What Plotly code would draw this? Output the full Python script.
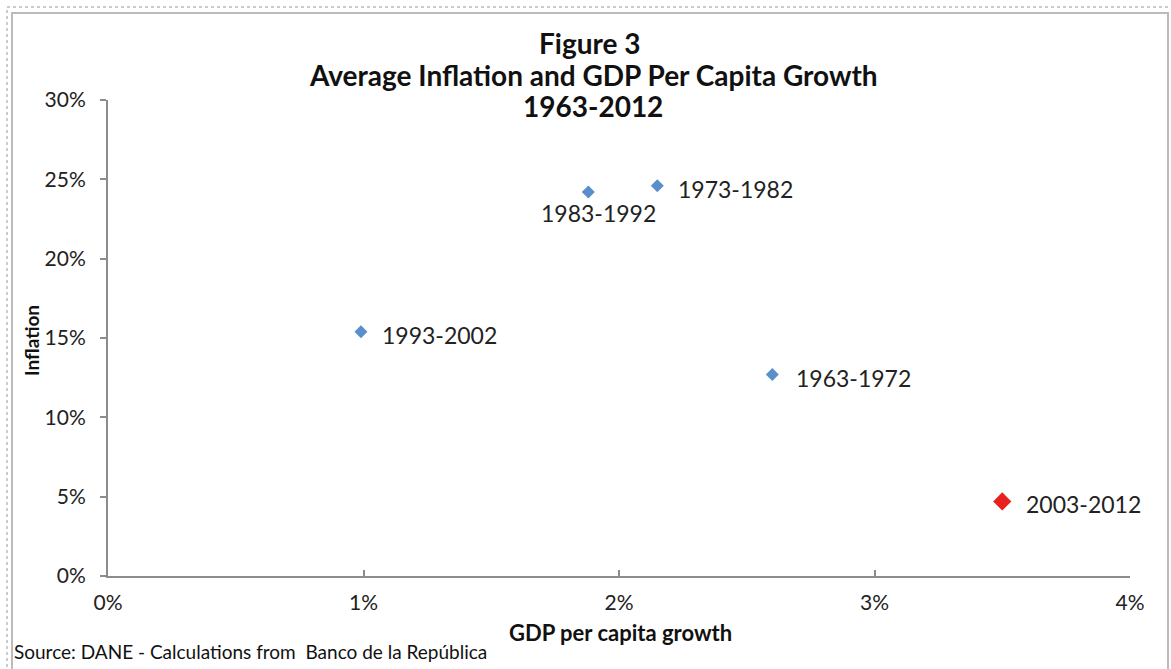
import plotly.graph_objects as go

periods = ["1963-1972", "1973-1982", "1983-1992", "1993-2002", "2003-2012"]
gdp_growth = [0.0260, 0.0215, 0.0188, 0.0099, 0.0350]
inflation = [0.127, 0.246, 0.242, 0.154, 0.047]
highlight = [False, False, False, False, True]

x_ticks = [0, 0.01, 0.02, 0.03, 0.04]
x_tick_labels = ["0%", "1%", "2%", "3%", "4%"]
y_ticks = [0, 0.05, 0.10, 0.15, 0.20, 0.25, 0.30]
y_tick_labels = ["0%", "5%", "10%", "15%", "20%", "25%", "30%"]

FONT = "Lato, 'Open Sans', sans-serif"
W, H = 1171, 669
L, R, T, B = 108, 41, 100, 93

fig = go.Figure()
bx = [x for x, h in zip(gdp_growth, highlight) if not h]
by = [y for y, h in zip(inflation, highlight) if not h]
rx = [x for x, h in zip(gdp_growth, highlight) if h]
ry = [y for y, h in zip(inflation, highlight) if h]
fig.add_trace(go.Scatter(x=bx, y=by, mode="markers",
                         marker=dict(symbol="diamond", size=10, color="#5B8FCB"),
                         showlegend=False, hoverinfo="skip"))
fig.add_trace(go.Scatter(x=rx, y=ry, mode="markers",
                         marker=dict(symbol="diamond", size=14, color="#E8211E"),
                         showlegend=False, hoverinfo="skip"))

offsets = {"1983-1992": dict(xanchor="center", yanchor="top", xshift=10, yshift=-5),
           "1963-1972": dict(xanchor="left", yanchor="middle", xshift=22, yshift=-4),
           "2003-2012": dict(xanchor="left", yanchor="middle", xshift=22, yshift=-3)}
annotations = []
for p, x, y in zip(periods, gdp_growth, inflation):
    o = offsets.get(p, dict(xanchor="left", yanchor="middle", xshift=19, yshift=-3))
    annotations.append(dict(x=x, y=y, xref="x", yref="y", text=p, showarrow=False,
                            font=dict(family=FONT, size=23, color="#222222"), **o))

pw, ph = W - L - R, H - T - B
def px(v): return (v - L) / pw
def py(v): return (H - B - v) / ph

def txt(x, y, text, size, xanchor="center", **kw):
    return dict(x=px(x), y=py(y), xref="paper", yref="paper", showarrow=False,
                xanchor=xanchor, yanchor="middle", text=text,
                font=dict(family=FONT, size=size, color="#111111"), **kw)

annotations += [
    txt(590, 43, "<b>Figure 3</b>", 28),
    txt(593, 75, "<b>Average Inflation and GDP Per Capita Growth</b>", 28),
    txt(593, 106, "<b>1963-2012</b>", 28),
    txt(620, 632, "<b>GDP per capita growth</b>", 22),
    txt(31, 341, "<b>Inflation</b>", 19, textangle=-90),
    txt(12, 652, "Source: DANE - Calculations from  Banco de la República", 19, xanchor="left"),
]

shapes = [
    dict(type="rect", xref="paper", yref="paper", x0=px(7), x1=px(1175), y0=py(7), y1=py(675),
         line=dict(color="#999999", width=1, dash="dot")),
    dict(type="rect", xref="paper", yref="paper", x0=px(12), x1=px(1168), y0=py(13), y1=py(675),
         line=dict(color="#BBBBBB", width=2)),
]

fig.update_layout(
    width=W, height=H,
    margin=dict(l=L, r=R, t=T, b=B),
    paper_bgcolor="white", plot_bgcolor="white",
    font=dict(family=FONT, color="#222222"),
    annotations=annotations, shapes=shapes,
    xaxis=dict(range=[0, 0.04], tickvals=x_ticks, ticktext=x_tick_labels,
               showgrid=False, zeroline=False, showline=True, linecolor="#8C8C8C", linewidth=2,
               ticks="inside", ticklen=6, tickcolor="#8C8C8C", tickwidth=2,
               ticklabelstandoff=7,
               tickfont=dict(family=FONT, size=21, color="#222222"), fixedrange=True),
    yaxis=dict(range=[0, 0.30], tickvals=y_ticks, ticktext=y_tick_labels,
               showgrid=False, zeroline=False, showline=True, linecolor="#8C8C8C", linewidth=2,
               ticks="outside", ticklen=6, tickcolor="#8C8C8C", tickwidth=2,
               ticklabelstandoff=10,
               tickfont=dict(family=FONT, size=21, color="#222222"), fixedrange=True),
)

fig.write_html("out.html")
